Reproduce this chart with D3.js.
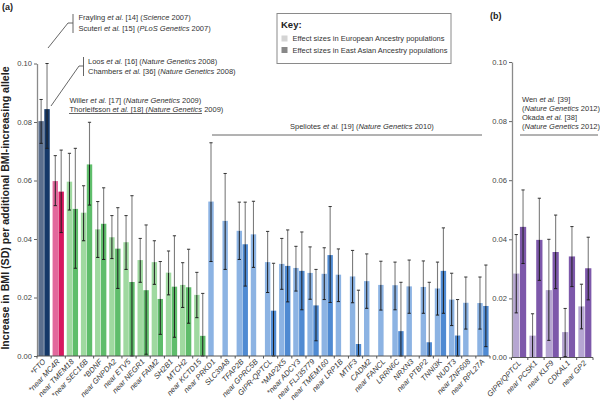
<!DOCTYPE html>
<html><head><meta charset="utf-8">
<script src="https://cdn.jsdelivr.net/npm/d3@7"></script>
<style>body{margin:0;background:#fff} svg{font-family:"Liberation Sans",Arial,sans-serif}</style>
</head><body><svg id="c" width="600" height="408"></svg>
<script>
// ---------- data ----------
const lociA = ["*FTO","*near MC4R","near TMEM18","*near SEC16B","*BDNF","near GNPDA2","near ETV5","near NEGR1","near FAIM2","SH2B1","MTCH2","near KCTD15","near PRKD1","SLC39A8","TFAP2B","near GPRC5B","GIPR-QPTCL","*MAP2K5","*near ADCY3","near FLJ35779","near TMEM160","near LRP1B","MTIF3","CADM2","near FANCL","LRRN6C","NRXN3","near PTBP2","TNNI3K","NUDT3","near ZNF608","near RPL27A"];
const studyA = [0,1,2,2,2,2,2,2,2,2,2,2,3,3,3,3,3,3,3,3,3,3,3,3,3,3,3,3,3,3,3,3];
const eurA   = [0.0803,0.0598,0.0596,0.0490,0.0433,0.0406,0.0389,0.0328,0.0321,0.0285,0.0243,0.0209,0.0528,0.0462,0.0428,0.0416,0.0321,0.0315,0.0301,0.0284,0.0281,0.0278,0.0272,0.0256,0.0243,0.0242,0.0238,0.0236,0.0231,0.0193,0.0182,0.0181];
const eurLoA = [0.0727,0.0514,0.0499,0.0394,0.0337,0.0333,0.0296,0.0252,0.0245,0.0209,0.0166,0.0131,0.0323,0.0296,0.0330,0.0303,0.0217,0.0228,0.0222,0.0194,0.0193,0.0186,0.0182,0.0163,0.0157,0.0158,0.0146,0.0146,0.0140,0.0104,0.0092,0.0092];
const eurHiA = [0.0877,0.0685,0.0693,0.0582,0.0528,0.0480,0.0480,0.0402,0.0394,0.0359,0.0319,0.0286,0.0729,0.0624,0.0526,0.0529,0.0426,0.0402,0.0375,0.0373,0.0370,0.0366,0.0361,0.0349,0.0324,0.0321,0.0328,0.0325,0.0321,0.0283,0.0270,0.0270];
const eaA    = [0.0844,0.0562,0.0503,0.0655,0.0452,0.0367,0.0253,0.0225,0.0195,0.0237,0.0235,0.0069,null,null,0.0382,null,0.0155,0.0308,0.0291,0.0173,0.0345,null,0.0041,null,null,0.0085,null,0.0047,0.0291,0.0070,null,0.0171];
const eaLoA  = [0.0710,0.0422,0.0300,0.0516,0.0330,0.0231,0.0000,0.0006,0.0074,0.0064,0.0112,0.0000,null,null,0.0239,null,0.0000,0.0185,0.0158,0.0052,0.0183,null,0.0000,null,null,0.0000,null,0.0000,0.0146,0.0000,null,0.0032];
const eaHiA  = [0.1000,0.0704,0.0710,0.0799,0.0575,0.0507,0.0548,0.0448,0.0323,0.0411,0.0365,0.0214,null,null,0.0526,null,0.0317,0.0431,0.0424,0.0296,0.0511,null,0.0225,null,null,0.0252,null,0.0252,0.0438,0.0193,null,0.0311];

const lociB  = ["GIPR/QPTCL","near PCSK1","near KLF9","CDKAL1","near GP2"];
const studyB = [4,4,4,4,4];
const eurB   = [0.0284,0.0074,0.0228,0.0086,0.0173];
const eurLoB = [0.0151,0.0000,0.0058,0.0003,0.0097];
const eurHiB = [0.0416,0.0148,0.0400,0.0166,0.0248];
const eaB    = [0.0442,0.0398,0.0357,0.0342,0.0302];
const eaLoB  = [0.0318,0.0261,0.0233,0.0240,0.0195];
const eaHiB  = [0.0567,0.0539,0.0482,0.0443,0.0407];

const yTicks = [0,0.02,0.04,0.06,0.08,0.10];
const populations = ["eur","ea"];
const keyLabels = ["Effect sizes in European Ancestry populations","Effect sizes in East Asian Ancestry populations"];

// ---------- styles ----------
const colors = {
  eur: ["#5b6f8e","#e2689c","#9fd9a0","#8cb3e3","#b6a6d2"],
  ea:  ["#153868","#d6185f","#5fbd6b","#4f8ad2","#7d58aa"]
};

const svg = d3.select("#c");

function drawPanel(loci, study, eur, eurLo, eurHi, ea, eaLo, eaHi, xRange, yRange, axisX) {
  const x = d3.scaleBand().domain(loci).range(xRange).padding(0);
  const xi = d3.scaleBand().domain(populations).range([0, x.bandwidth()]).paddingInner(0.08).paddingOuter(0.24);
  const y = d3.scaleLinear().domain([0, 0.10]).range(yRange);
  const g = svg.append("g");

  const rows = [];
  loci.forEach((l, i) => {
    rows.push({l, s: study[i], pop: "eur", v: eur[i], lo: eurLo[i], hi: eurHi[i]});
    if (ea[i] != null) rows.push({l, s: study[i], pop: "ea", v: ea[i], lo: eaLo[i], hi: eaHi[i]});
  });

  g.selectAll("rect.bar").data(rows).join("rect")
    .attr("x", d => x(d.l) + xi(d.pop))
    .attr("width", xi.bandwidth())
    .attr("y", d => y(d.v))
    .attr("height", d => y(0) - y(d.v))
    .attr("fill", d => colors[d.pop][d.s]);

  const cx = d => x(d.l) + xi(d.pop) + xi.bandwidth() / 2;
  // upper whisker
  g.selectAll("line.up").data(rows).join("line")
    .attr("x1", cx).attr("x2", cx)
    .attr("y1", d => y(d.v)).attr("y2", d => y(d.hi))
    .attr("stroke", "#7c7c7c").attr("stroke-width", 1.1);
  // lower whisker
  g.selectAll("line.dn").data(rows).join("line")
    .attr("x1", cx).attr("x2", cx)
    .attr("y1", d => y(d.lo)).attr("y2", d => y(d.v))
    .attr("stroke", "#1e1e1e").attr("stroke-width", 1);
  g.selectAll("line.capH").data(rows).join("line")
    .attr("x1", d => cx(d) - 1.6).attr("x2", d => cx(d) + 1.6)
    .attr("y1", d => y(d.hi)).attr("y2", d => y(d.hi))
    .attr("stroke", "#333").attr("stroke-width", 1);
  g.selectAll("line.capL").data(rows).join("line")
    .attr("x1", d => cx(d) - 1.6).attr("x2", d => cx(d) + 1.6)
    .attr("y1", d => y(d.lo)).attr("y2", d => y(d.lo))
    .attr("stroke", "#1e1e1e").attr("stroke-width", 1);

  // y axis
  const ya = g.append("g").attr("transform", `translate(${axisX},0)`)
    .call(d3.axisLeft(y).tickValues(yTicks).tickFormat(d3.format(".2f")).tickSize(3).tickSizeOuter(0).tickPadding(2));
  ya.select(".domain").attr("stroke", "#8a8a8a").attr("stroke-width", 1.3);
  ya.selectAll(".tick line").attr("stroke", "#666");
  ya.selectAll(".tick text").attr("font-size", "7.6px").attr("fill", "#444").attr("font-family", "Liberation Sans, Arial, sans-serif");

  // x baseline + boundary ticks
  g.append("line").attr("x1", axisX).attr("x2", xRange[1]).attr("y1", y(0)).attr("y2", y(0))
    .attr("stroke", "#555").attr("stroke-width", 1);
  const bounds = loci.map(l => x(l)).concat([xRange[1]]);
  g.selectAll("line.bt").data(bounds).join("line")
    .attr("x1", d => d).attr("x2", d => d).attr("y1", y(0)).attr("y2", y(0) + 2.5)
    .attr("stroke", "#555").attr("stroke-width", 1);

  // x labels
  g.selectAll("text.xl").data(loci).join("text")
    .attr("transform", l => `translate(${x(l) + x.bandwidth() / 2 + 2},${y(0) + 6}) rotate(-47)`)
    .attr("text-anchor", "end")
    .attr("font-size", "7.6px").attr("font-style", "italic").attr("fill", "#333")
    .text(l => l);
  return {x, y};
}

const A = drawPanel(lociA, studyA, eurA, eurLoA, eurHiA, eaA, eaLoA, eaHiA, [37, 490], [356, 63.5], 37);
const B = drawPanel(lociB, studyB, eurB, eurLoB, eurHiB, eaB, eaLoB, eaHiB, [511.5, 593], [357.5, 62], 512);

// ---------- titles / annotations ----------
svg.append("text").attr("transform", "translate(8.5,208) rotate(-90)").attr("text-anchor", "middle")
  .attr("font-size", "10.6px").attr("font-weight", "bold").attr("fill", "#222")
  .text("Increase in BMI (SD) per additional BMI-increasing allele");
svg.append("text").attr("x", 2).attr("y", 10).attr("font-size", "9px").attr("font-weight", "bold").attr("fill", "#222").text("(a)");
svg.append("text").attr("x", 490).attr("y", 19).attr("font-size", "9px").attr("font-weight", "bold").attr("fill", "#222").text("(b)");

function rich(x, yb, parts) {
  const t = svg.append("text").attr("x", x).attr("y", yb).attr("font-size", "7.5px").attr("fill", "#333");
  parts.forEach(p => t.append("tspan").attr("font-style", p[1] ? "italic" : "normal").text(p[0]));
  return t;
}
const ln = (x1, y1, x2, y2) => svg.append("line").attr("x1", x1).attr("y1", y1).attr("x2", x2).attr("y2", y2)
  .attr("stroke", "#555").attr("stroke-width", 0.9);

rich(78.5, 20, [["Frayling ",0],["et al.",1],[" [14] (",0],["Science",1],[" 2007)",0]]);
rich(78.5, 30.5, [["Scuteri ",0],["et al.",1],[" [15] (",0],["PLoS Genetics",1],[" 2007)",0]]);
ln(73, 14, 73, 33); ln(68, 23, 73, 23); ln(68, 23, 48, 48);

rich(88, 63.5, [["Loos ",0],["et al.",1],[" [16] (",0],["Nature Genetics",1],[" 2008)",0]]);
rich(88, 74, [["Chambers ",0],["et al.",1],[" [36] (",0],["Nature Genetics",1],[" 2008)",0]]);
ln(83.5, 57, 83.5, 76); ln(79, 66, 83.5, 66); ln(79, 66, 51, 106);

rich(69.5, 102.5, [["Willer ",0],["et al.",1],[" [17] (",0],["Nature Genetics",1],[" 2009)",0]]);
rich(69.5, 111.5, [["Thorleifsson ",0],["et al.",1],[" [18] (",0],["Nature Genetics",1],[" 2009)",0]]);
ln(69, 113.5, 202, 113.5);

rich(290, 129, [["Speliotes ",0],["et al.",1],[" [19] (",0],["Nature Genetics",1],[" 2010)",0]]);
ln(212, 135, 482, 135);

rich(522, 102, [["Wen ",0],["et al.",1],[" [39]",0]]);
rich(522, 111, [["(",0],["Nature Genetics",1],[" 2012)",0]]);
rich(522, 120, [["Okada ",0],["et al.",1],[" [38]",0]]);
rich(522, 129, [["(",0],["Nature Genetics",1],[" 2012)",0]]);
ln(520, 135, 598, 135);

// ---------- key ----------
const key = svg.append("g");
key.append("rect").attr("x", 277).attr("y", 13.5).attr("width", 174).attr("height", 50)
  .attr("fill", "#fff").attr("stroke", "#8a8a8a").attr("stroke-width", 1);
key.append("text").attr("x", 281).attr("y", 28).attr("font-size", "9.5px").attr("font-weight", "bold").attr("fill", "#222").text("Key:");
const keyFill = ["#d4d4d4", "#888888"];
keyLabels.forEach((t, i) => {
  key.append("rect").attr("x", 281.5).attr("y", 35.5 + i * 11.5).attr("width", 6).attr("height", 6).attr("fill", keyFill[i]);
  key.append("text").attr("x", 292.5).attr("y", 41.3 + i * 11.5).attr("font-size", "7.5px").attr("fill", "#333").text(t);
});
</script></body></html>
